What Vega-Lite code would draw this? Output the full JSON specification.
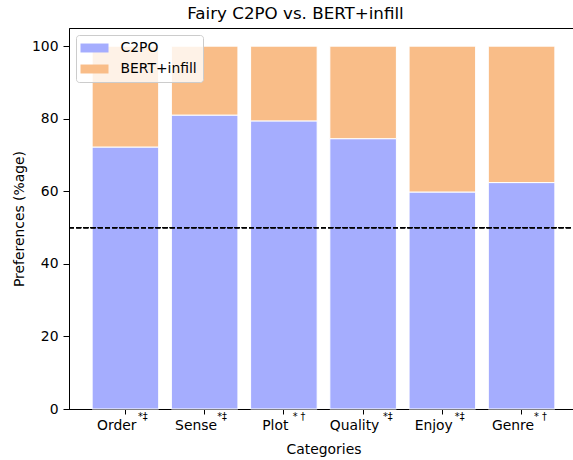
{
  "$schema": "https://vega.github.io/schema/vega-lite/v6.json",
  "autosize": "none",
  "padding": {"left": 69, "top": 28, "right": 0, "bottom": 51},
  "width": 509,
  "height": 381,
  "background": "white",
  "title": {
    "text": "Fairy C2PO vs. BERT+infill",
    "font": "DejaVu Sans",
    "fontSize": 16.7,
    "fontWeight": "normal",
    "color": "black",
    "anchor": "middle",
    "dx": -28,
    "offset": 5
  },
  "config": {
    "view": {"stroke": "black", "strokeWidth": 1},
    "font": "DejaVu Sans"
  },
  "data": {
    "values": [
      {"cat": "Order", "sup": "*‡", "C2PO": 72.2, "BERT+infill": 27.8},
      {"cat": "Sense", "sup": "*‡", "C2PO": 81.0, "BERT+infill": 19.0},
      {"cat": "Plot", "sup": "* †", "C2PO": 79.4, "BERT+infill": 20.6},
      {"cat": "Quality", "sup": "*‡", "C2PO": 74.5, "BERT+infill": 25.5},
      {"cat": "Enjoy", "sup": "*‡", "C2PO": 59.8, "BERT+infill": 40.2},
      {"cat": "Genre", "sup": "* †", "C2PO": 62.4, "BERT+infill": 37.6}
    ]
  },
  "layer": [
    {
      "transform": [{"fold": ["C2PO", "BERT+infill"], "as": ["model", "value"]}],
      "mark": {"type": "bar", "stroke": "white", "strokeWidth": 1},
      "encoding": {
        "x": {
          "field": "cat",
          "type": "nominal",
          "sort": null,
          "scale": {"paddingInner": 0.16, "paddingOuter": 0.292},
          "axis": {
            "title": "Categories",
            "titleFont": "DejaVu Sans",
            "titleFontSize": 13.9,
            "titleFontWeight": "normal",
            "titleColor": "black",
            "titlePadding": 11,
            "labelFont": "DejaVu Sans",
            "labelFontSize": 13.9,
            "labelColor": "black",
            "labelAngle": 0,
            "labelOffset": -8.6,
            "labelPadding": 4,
            "tickColor": "black",
            "tickSize": 5,
            "domainColor": "black",
            "grid": false
          }
        },
        "y": {
          "field": "value",
          "type": "quantitative",
          "stack": "zero",
          "scale": {"domain": [0, 105], "nice": false},
          "axis": {
            "title": "Preferences (%age)",
            "titleFont": "DejaVu Sans",
            "titleFontSize": 13.9,
            "titleFontWeight": "normal",
            "titleColor": "black",
            "titlePadding": 5,
            "values": [0, 20, 40, 60, 80, 100],
            "labelFont": "DejaVu Sans",
            "labelFontSize": 13.9,
            "labelColor": "black",
            "labelPadding": 5,
            "tickColor": "black",
            "tickSize": 6,
            "domainColor": "black",
            "grid": false
          }
        },
        "color": {
          "field": "model",
          "type": "nominal",
          "scale": {"domain": ["C2PO", "BERT+infill"], "range": ["#a5adfe", "#f9bd88"]},
          "legend": {
            "title": null,
            "orient": "top-left",
            "offset": 7,
            "fillColor": "rgba(255,255,255,0.8)",
            "strokeColor": "#cccccc",
            "cornerRadius": 3,
            "padding": 6,
            "rowPadding": 7,
            "labelFont": "DejaVu Sans",
            "labelFontSize": 13.9,
            "labelColor": "black",
            "labelOffset": 19,
            "symbolOffset": 5.5,
            "symbolType": "M-2,-0.64H2V0.64H-2Z",
            "symbolSize": 196,
            "symbolStrokeWidth": 0,
            "symbolOpacity": 1
          }
        },
        "order": {"field": "model", "sort": "descending"}
      }
    },
    {
      "mark": {"type": "rule", "color": "black", "strokeWidth": 1.2, "strokeDash": [5, 2.2]},
      "encoding": {"y": {"datum": 50}}
    },
    {
      "mark": {
        "type": "text",
        "align": "left",
        "baseline": "middle",
        "font": "DejaVu Sans",
        "fontSize": 9.7,
        "color": "black",
        "dx": {"expr": "length(datum.cat) * 3.7 - 6"},
        "dy": 8
      },
      "encoding": {
        "x": {"field": "cat", "type": "nominal", "sort": null},
        "y": {"datum": 0},
        "text": {"field": "sup"}
      }
    }
  ]
}
